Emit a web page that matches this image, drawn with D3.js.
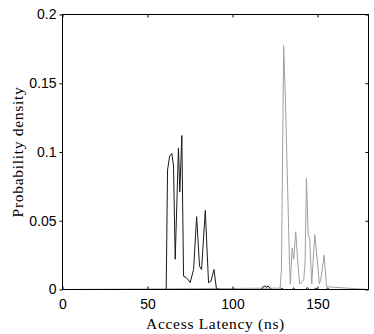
<!DOCTYPE html>
<html><head><meta charset="utf-8">
<script src="https://cdn.jsdelivr.net/npm/d3@7/dist/d3.min.js"></script>
<style>body{margin:0;background:#fff}svg{display:block}</style>
</head><body>
<svg id="c" width="374" height="334"></svg>
<script>
// Data
const xTicks = [0, 50, 100, 150];
const yTicks = [0, 0.05, 0.1, 0.15, 0.2];
const yTickLabels = ["0", "0.05", "0.1", "0.15", "0.2"];
const xLabel = "Access Latency (ns)";
const yLabel = "Probability density";

// black series (latency, density)
const blackX = [0, 61, 61.8, 63, 64.3, 65.3, 66.3, 67.2, 68.2, 69.0, 70.2, 71.2, 72.8, 74, 75.1, 77.1, 78.9, 80.6, 81.8, 84.0, 85.9, 87.3, 89.1, 90.5, 92, 117, 118, 119, 120, 121, 122, 123, 128, 129, 130, 135, 136, 137, 143, 144, 145, 148, 149, 150, 155, 156, 157, 180];
const blackY = [0, 0, 0.087, 0.097, 0.099, 0.09, 0.022, 0.06, 0.103, 0.071, 0.112, 0.0097, 0.0087, 0.007, 0.005, 0.0145, 0.053, 0.017, 0.0145, 0.0575, 0.005, 0.006, 0.0145, 0.001, 0, 0, 0.002, 0.0025, 0.0018, 0.0025, 0.001, 0, 0, 0.001, 0, 0, 0.0012, 0, 0, 0.0015, 0, 0, 0.001, 0, 0, 0.001, 0, 0];

// gray series
const grayX = [0, 128.0, 128.8, 130.1, 131.2, 132.5, 133.5, 134.0, 135.1, 136.0, 137.2, 138.4, 139.5, 141.9, 142.7, 143.5, 144.5, 145.4, 146.6, 148.4, 149.8, 151.1, 152.1, 153.9, 155.3, 180];
const grayY = [0, 0.001, 0.015, 0.1775, 0.135, 0.07, 0.02, 0.004, 0.030, 0.022, 0.042, 0.02, 0.004, 0.007, 0.02, 0.081, 0.040, 0.037, 0.004, 0.040, 0.022, 0.004, 0.0085, 0.025, 0.002, 0];

const W = 374, H = 334;
const m = {left: 62.5, right: 368.5, top: 14.5, bottom: 289.5};
const x = d3.scaleLinear().domain([0, 180]).range([m.left, m.right]);
const y = d3.scaleLinear().domain([0, 0.2]).range([m.bottom, m.top]);

const svg = d3.select("#c");
const line = d3.line().x(d => x(d[0])).y(d => y(d[1]));

const g = svg.append("g");
g.append("path").datum(d3.zip(grayX, grayY)).attr("d", line)
  .attr("fill", "none").attr("stroke", "#a0a0a0").attr("stroke-width", 1).attr("stroke-linejoin", "round");
g.append("path").datum(d3.zip(blackX, blackY)).attr("d", line)
  .attr("fill", "none").attr("stroke", "#1a1a1a").attr("stroke-width", 1).attr("stroke-linejoin", "round");

// box
svg.append("rect").attr("x", m.left).attr("y", m.top)
  .attr("width", m.right - m.left).attr("height", m.bottom - m.top)
  .attr("fill", "none").attr("stroke", "#000").attr("stroke-width", 1);

// axes
const fontTick = "'Liberation Sans', Arial, sans-serif";
const bx = svg.append("g").attr("transform", `translate(0,${m.bottom})`)
  .call(d3.axisBottom(x).tickValues(xTicks).tickSize(-3).tickPadding(10).tickFormat(d3.format("d")));
const tx = svg.append("g").attr("transform", `translate(0,${m.top})`)
  .call(d3.axisTop(x).tickValues(xTicks).tickSize(-3).tickFormat(""));
const ly = svg.append("g").attr("transform", `translate(${m.left},0)`)
  .call(d3.axisLeft(y).tickValues(yTicks).tickSize(3).tickPadding(3).tickFormat((d, i) => yTickLabels[i]));
const ry = svg.append("g").attr("transform", `translate(${m.right},0)`)
  .call(d3.axisRight(y).tickValues(yTicks).tickSize(-3).tickFormat(""));
[bx, tx, ly, ry].forEach(a => {
  a.select(".domain").remove();
  a.selectAll("line").attr("stroke", "#000");
  a.selectAll("text").attr("font-family", fontTick).attr("font-size", 14).attr("fill", "#000");
});

// axis labels
const fontLab = "'Liberation Serif', 'Times New Roman', serif";
svg.append("text").attr("x", (m.left + m.right) / 2).attr("y", 329)
  .attr("text-anchor", "middle").attr("font-family", fontLab).attr("font-size", 15.5)
  .attr("letter-spacing", 0.7).attr("fill", "#000").text(xLabel);
svg.append("text").attr("transform", `translate(23,${(m.top + m.bottom) / 2}) rotate(-90)`)
  .attr("text-anchor", "middle").attr("font-family", fontLab).attr("font-size", 15.5)
  .attr("letter-spacing", 0.7).attr("fill", "#000").text(yLabel);
</script>
</body></html>
